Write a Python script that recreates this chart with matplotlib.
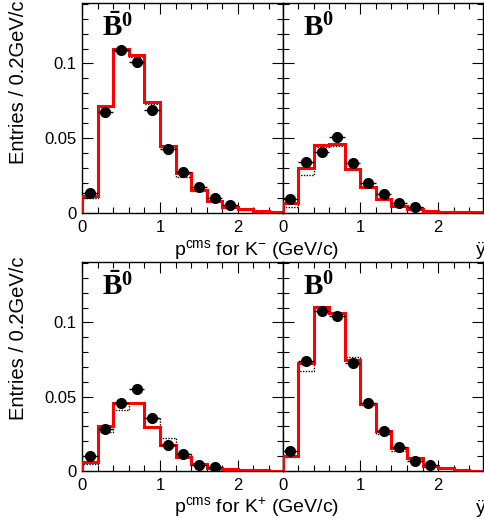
import numpy as np
import matplotlib
matplotlib.use('Agg')
import matplotlib.pyplot as plt
from matplotlib.ticker import MultipleLocator

plt.rcParams['font.family'] = ['Liberation Sans', 'DejaVu Sans']
plt.rcParams['mathtext.fontset'] = 'custom'
plt.rcParams['mathtext.rm'] = 'Liberation Sans'
plt.rcParams['mathtext.it'] = 'Liberation Sans:italic'
plt.rcParams['mathtext.bf'] = 'Liberation Serif:bold'

# bin edges (0.2 GeV/c bins)
edges = np.round(np.arange(0, 2.61, 0.2), 2)
centers = edges[:-1] + 0.1

# top left: B0bar, K-
red_tl = [0.011, 0.0714, 0.1094, 0.1056, 0.0739, 0.0446, 0.0264, 0.0152, 0.008, 0.004, 0.0023, 0.0011, 0.0002]
dot_tl = [0.010, 0.0705, 0.1085, 0.1045, 0.0730, 0.0440, 0.0240, 0.0145, 0.0076, 0.0037, 0.0020, 0.0010, 0.0002]
dat_tl = [0.013, 0.0676, 0.109, 0.101, 0.069, 0.043, 0.027, 0.0174, 0.0096, 0.0052]

# top right: B0, K-
red_tr = [0.0063, 0.0297, 0.0453, 0.046, 0.0292, 0.0174, 0.0092, 0.0047, 0.0023, 0.0011, 0.0008, 0.0005, 0.0002]
dot_tr = [0.0039, 0.0252, 0.044, 0.045, 0.029, 0.017, 0.009, 0.0045, 0.0022, 0.001, 0.0007, 0.0004, 0.0002]
dat_tr = [0.0092, 0.0337, 0.0408, 0.0509, 0.0331, 0.0201, 0.0125, 0.0067, 0.004]

# bottom left: B0bar, K+
red_bl = [0.0059, 0.0306, 0.046, 0.046, 0.0299, 0.0175, 0.0097, 0.0045, 0.0022, 0.0012, 0.0008, 0.0004, 0.0002]
dot_bl = [0.0045, 0.0265, 0.041, 0.0455, 0.0355, 0.0225, 0.0115, 0.005, 0.0025, 0.0012, 0.0008, 0.0004, 0.0002]
dat_bl = [0.0101, 0.0283, 0.0456, 0.0551, 0.0355, 0.0175, 0.0112, 0.004, 0.0029]

# bottom right: B0, K+
red_br = [0.0103, 0.0726, 0.1104, 0.1067, 0.0748, 0.045, 0.027, 0.0157, 0.0086, 0.0036, 0.0022, 0.0007, 0.0003]
dot_br = [0.0095, 0.067, 0.110, 0.106, 0.077, 0.0445, 0.0247, 0.0135, 0.0083, 0.0036, 0.0022, 0.0007, 0.0003]
dat_br = [0.0135, 0.0742, 0.1074, 0.1045, 0.0726, 0.0456, 0.027, 0.0164, 0.0067, 0.004]

panel_labels = [r'$\mathbf{\bar{B}^{0}}$', r'$\mathbf{B^{0}}$']
xlabels = [r'$\mathrm{p^{cms}}$ for $\mathrm{K^{-}}$ (GeV/c)',
           r'$\mathrm{p^{cms}}$ for $\mathrm{K^{+}}$ (GeV/c)']
ylabel = 'Entries / 0.2GeV/c'

W, H = 485, 523
fig = plt.figure(figsize=(W / 100, H / 100), dpi=100)

def px_axes(left, top, width, height):
    return fig.add_axes([left / W, 1 - (top + height) / H, width / W, height / H])

panels = [
    (82, 3, 209.7, red_tl, dot_tl, dat_tl, 0),
    (282.7, 3, 209.7, red_tr, dot_tr, dat_tr, 1),
    (82, 262.3, 208.7, red_bl, dot_bl, dat_bl, 0),
    (282.7, 262.3, 208.7, red_br, dot_br, dat_br, 1),
]

for left, top, height, red, dot, dat, col in panels:
    ax = px_axes(left, top, 200.7 if col == 0 else 200, height)
    ax.stairs(dot, edges, color='black', linestyle=(0, (1, 1)), linewidth=1.0, zorder=2)
    ax.stairs(red, edges, color='red', linewidth=2.2, zorder=3)
    n = len(dat)
    ax.errorbar(centers[:n], dat, xerr=0.1, yerr=0.0012, fmt='o', color='black',
                markersize=7, elinewidth=1, capsize=0, zorder=4)
    ax.set_xlim(0, 2.575)
    ax.set_ylim(0, 0.1405)
    ax.xaxis.set_major_locator(MultipleLocator(1))
    ax.xaxis.set_minor_locator(MultipleLocator(0.2))
    ax.yaxis.set_major_locator(MultipleLocator(0.05))
    ax.yaxis.set_minor_locator(MultipleLocator(0.01))
    ax.set_xticks([0, 1, 2])
    ax.set_xticklabels(['0', '1', '2'])
    ax.set_yticks([0, 0.05, 0.1])
    ax.set_yticklabels(['0', '0.05', '0.1'])
    ax.tick_params(which='both', direction='in', top=True, right=True, width=0.8,
                   labelsize=12, pad=5)
    ax.tick_params(which='major', length=8)
    ax.tick_params(which='minor', length=4)
    ax.tick_params(axis='y', pad=4)
    if col == 1:
        ax.tick_params(axis='y', labelleft=False)
    for s in ax.spines.values():
        s.set_linewidth(1)
    ax.text(0.1, 0.842, panel_labels[col], transform=ax.transAxes, ha='left', va='baseline',
            fontsize=21)

# axis titles
for i, base in enumerate([255, 513]):
    fig.text(257 / W, 1 - base / H, xlabels[i], ha='center', va='baseline', fontsize=14)
    fig.text(476 / W, 1 - base / H, 'ÿ', ha='left', va='baseline', fontsize=14)
fig.text(19 / W, 1 - 1 / H, ylabel, rotation=90, ha='center', va='top', fontsize=14.5)
fig.text(19 / W, 1 - 256 / H, ylabel, rotation=90, ha='center', va='top', fontsize=14.5)

fig.savefig('out.png', dpi=100)
